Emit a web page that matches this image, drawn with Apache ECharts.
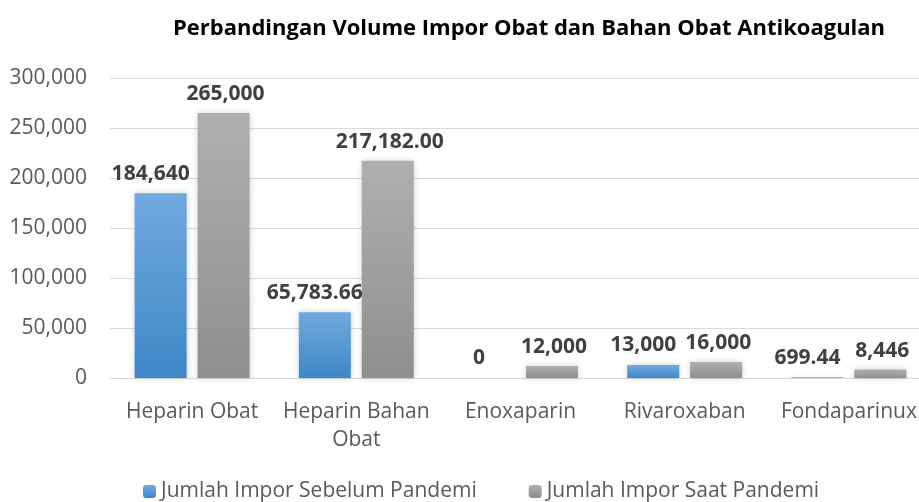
<!DOCTYPE html>
<html>
<head>
<meta charset="utf-8">
<script src="https://cdn.jsdelivr.net/npm/echarts@6/dist/echarts.min.js"></script>
<style>
  html, body { margin: 0; padding: 0; background: #fff; }
  #chart { width: 919px; height: 502px; }
</style>
</head>
<body>
<div id="chart"></div>
<script>
const categories = ["Heparin Obat", "Heparin Bahan\nObat", "Enoxaparin", "Rivaroxaban", "Fondaparinux"];
const sebelumPandemi = [184640, 65783.66, 0, 13000, 699.44];
const saatPandemi = [265000, 217182.0, 12000, 16000, 8446];
// decimals shown in each data label
const sebelumDecimals = [0, 2, 0, 0, 2];
const saatDecimals = [0, 2, 0, 0, 0];
const yTicks = [0, 50000, 100000, 150000, 200000, 250000, 300000];

const FONT = "Open Sans";

function fmt(v, d) {
  return v.toLocaleString("en-US", { minimumFractionDigits: d, maximumFractionDigits: d });
}

const chart = echarts.init(document.getElementById("chart"));
const option = {
  animation: false,
  textStyle: { fontFamily: FONT },
  title: {
    text: "Perbandingan Volume Impor Obat dan Bahan Obat Antikoagulan",
    left: 524,
    top: 13,
    textAlign: "center",
    textStyle: {
      fontFamily: FONT,
      fontSize: 22,
      fontWeight: "bold",
      color: "#000000",
    },
  },
  legend: {
    data: ["Jumlah Impor Sebelum Pandemi", "Jumlah Impor Saat Pandemi"],
    left: 143,
    top: 481,
    padding: 0,
    itemWidth: 13,
    itemHeight: 13,
    itemGap: 52,
    textStyle: {
      fontFamily: FONT,
      fontSize: 21,
      color: "#595959",
      padding: [0, 0, 0, 0],
    },
  },
  grid: {
    left: 110,
    right: -12,
    top: 78,
    bottom: 124,
    outerBoundsMode: "none",
  },
  xAxis: {
    type: "category",
    data: categories,
    axisLine: { lineStyle: { color: "#d9d9d9", width: 1 } },
    axisTick: { show: false },
    axisLabel: {
      color: "#595959",
      fontFamily: FONT,
      fontSize: 21,
      lineHeight: 28,
      margin: 20,
      interval: 0,
    },
  },
  yAxis: {
    type: "value",
    min: 0,
    max: yTicks[yTicks.length - 1],
    interval: yTicks[1] - yTicks[0],
    axisLine: { show: false },
    axisTick: { show: false },
    axisLabel: {
      color: "#595959",
      fontFamily: FONT,
      fontSize: 21,
      margin: 23,
      formatter: (v) => v.toLocaleString("en-US"),
    },
    splitLine: { lineStyle: { color: "#d9d9d9", width: 1 } },
  },
  series: [
    {
      name: "Jumlah Impor Sebelum Pandemi",
      type: "bar",
      barWidth: 52,
      barGap: "21%",
      data: sebelumPandemi,
      itemStyle: {
        color: {
          type: "linear", x: 0, y: 0, x2: 0, y2: 1,
          colorStops: [
            { offset: 0, color: "#71a9dd" },
            { offset: 1, color: "#3e87c8" },
          ],
        },
        shadowBlur: 6,
        shadowColor: "rgba(0,0,0,0.18)",
      },
      label: {
        show: true,
        position: "top",
        distance: 9,
        offset: [-10, 0],
        color: "#404040",
        fontFamily: FONT,
        fontSize: 21,
        fontWeight: "bold",
        formatter: (p) => fmt(p.value, sebelumDecimals[p.dataIndex]),
      },
    },
    {
      name: "Jumlah Impor Saat Pandemi",
      type: "bar",
      barWidth: 52,
      data: saatPandemi,
      itemStyle: {
        color: {
          type: "linear", x: 0, y: 0, x2: 0, y2: 1,
          colorStops: [
            { offset: 0, color: "#afafaf" },
            { offset: 1, color: "#8f8f8f" },
          ],
        },
        shadowBlur: 6,
        shadowColor: "rgba(0,0,0,0.18)",
      },
      label: {
        show: true,
        position: "top",
        distance: 8,
        offset: [2, 0],
        color: "#404040",
        fontFamily: FONT,
        fontSize: 21,
        fontWeight: "bold",
        formatter: (p) => fmt(p.value, saatDecimals[p.dataIndex]),
      },
    },
  ],
};
chart.setOption(option);
</script>
</body>
</html>
